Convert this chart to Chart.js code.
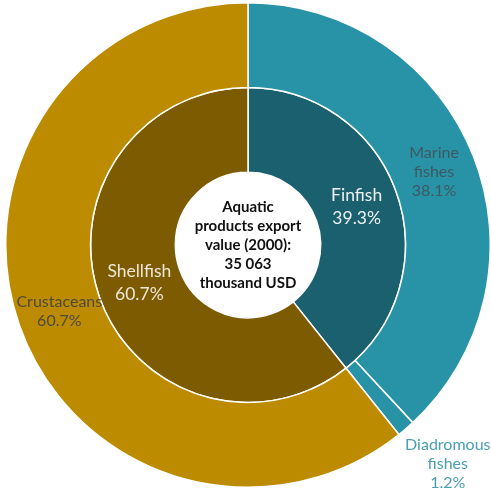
<!DOCTYPE html>
<html>
<head>
<meta charset="utf-8">
<script src="https://cdn.jsdelivr.net/npm/chart.js@4"></script>
<style>
  html, body { margin: 0; padding: 0; background: #ffffff; }
  #wrap { width: 491px; height: 490px; }
</style>
</head>
<body>
<div id="wrap"><canvas id="chart"></canvas></div>
<script>
// ------------------------------------------------------------
// DATA
// ------------------------------------------------------------
const outerLabels = [["Marine", "fishes"], ["Diadromous", "fishes"], ["Crustaceans"]];
const outerValues = [38.1, 1.2, 60.7];

const innerLabels = [["Finfish"], ["Shellfish"]];
const innerValues = [39.3, 60.7];

const centerLines = ["Aquatic", "products export", "value (2000):", "35 063", "thousand USD"];

// ------------------------------------------------------------
// STYLE
// ------------------------------------------------------------
const outerColors = ["#2892a6", "#2892a6", "#bc8b00"];
const innerColors = ["#1a606f", "#7d5b00"];
const outerText   = ["#3e5961", "#4a9fb2", "#4e4a3c"];
const innerText   = ["#eef2f3", "#efe7d6"];
const FONT = "Lato, 'Open Sans', sans-serif";

// ------------------------------------------------------------
// LABEL PLUGIN – Position aus der Arc-Geometrie
// ------------------------------------------------------------
const sliceLabels = {
  id: "sliceLabels",
  afterDatasetsDraw(chart) {
    const ctx = chart.ctx;
    ctx.save();
    ctx.textAlign = "center";
    ctx.textBaseline = "middle";

    chart.data.datasets.forEach((ds, di) => {
      const meta = chart.getDatasetMeta(di);
      meta.data.forEach((arc, i) => {
        const p = arc.getProps(["x", "y", "startAngle", "endAngle", "innerRadius", "outerRadius"], true);
        const small = ds.data[i] < 5;
        // kleine Segmente: Label außen, etwas zur Startkante hin
        const mid = small
          ? p.startAngle + (p.endAngle - p.startAngle) * 0.1
          : (p.startAngle + p.endAngle) / 2;
        const r = small ? p.outerRadius + 54 : (p.innerRadius + p.outerRadius) / 2;
        const cx = p.x + Math.cos(mid) * r;
        const cy = p.y + Math.sin(mid) * r;

        const lines = ds.labelLines[i].concat([ds.data[i].toFixed(1) + "%"]);
        const size = di === 0 ? 16 : 17.5;
        const lh = di === 0 ? 19 : 23;
        ctx.font = size + "px " + FONT;
        ctx.fillStyle = ds.textColors[i];
        const top = cy - (lines.length - 1) * lh / 2;
        lines.forEach((t, k) => ctx.fillText(t, cx, top + k * lh));
      });
    });

    // Mitte
    const a = chart.getDatasetMeta(0).data[0];
    ctx.font = "bold 15px " + FONT;
    ctx.fillStyle = "#111111";
    const lh = 19;
    const top = a.y - (centerLines.length - 1) * lh / 2;
    centerLines.forEach((t, k) => ctx.fillText(t, a.x, top + k * lh));
    ctx.restore();
  }
};

// ------------------------------------------------------------
// CHART
// ------------------------------------------------------------
new Chart(document.getElementById("chart"), {
  type: "doughnut",
  data: {
    datasets: [
      {
        data: outerValues,
        labelLines: outerLabels,
        textColors: outerText,
        backgroundColor: outerColors,
        borderColor: "#ffffff",
        borderWidth: 1.5,
        hoverOffset: 0
      },
      {
        data: innerValues,
        labelLines: innerLabels,
        textColors: innerText,
        backgroundColor: innerColors,
        borderColor: "#ffffff",
        borderWidth: 1.5,
        hoverOffset: 0
      }
    ]
  },
  options: {
    responsive: true,
    maintainAspectRatio: false,
    animation: false,
    cutout: "30%",
    layout: { padding: { left: 5, right: 0, top: 2, bottom: 2 } },
    plugins: {
      legend: { display: false },
      tooltip: { enabled: false }
    }
  },
  plugins: [sliceLabels]
});
</script>
</body>
</html>
